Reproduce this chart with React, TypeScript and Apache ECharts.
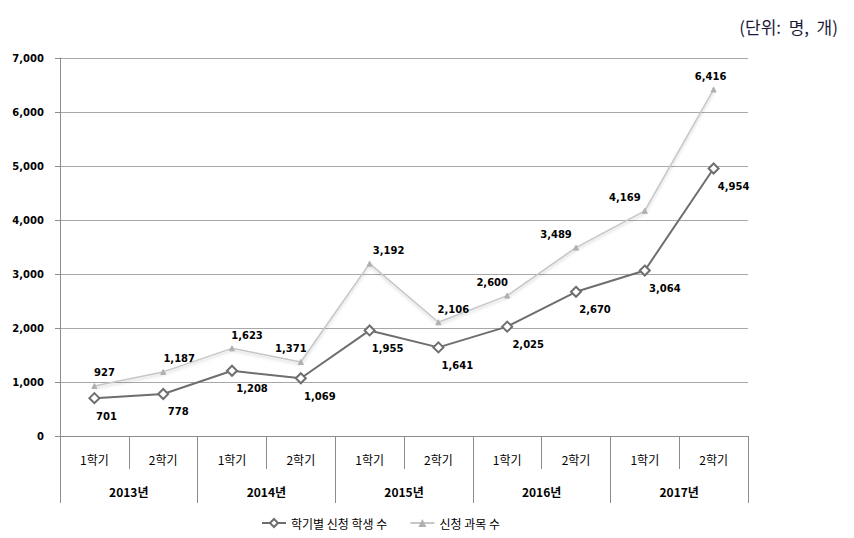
import React, { useEffect, useRef } from "react";
import * as echarts from "echarts";

const semesters = ["1학기", "2학기", "1학기", "2학기", "1학기", "2학기", "1학기", "2학기", "1학기", "2학기"];
const years = ["2013년", "2014년", "2015년", "2016년", "2017년"];
const students = [701, 778, 1208, 1069, 1955, 1641, 2025, 2670, 3064, 4954];
const courses = [927, 1187, 1623, 1371, 3192, 2106, 2600, 3489, 4169, 6416];
const yTicks = [0, 1000, 2000, 3000, 4000, 5000, 6000, 7000];

// label horizontal nudges (style only)
const studentLabelDx = [12, 15, 20, 19, 18, 19, 21, 19, 20, 20];
const courseLabelDx = [10, 16, 15, -10, 19, 15, -15, -20, -20, -3];

const numFont = "DejaVu Sans";
const krFont = "'Noto Sans CJK KR', 'Noto Sans', sans-serif";

export default function App() {
  const ref = useRef<HTMLDivElement>(null);
  useEffect(() => {
    if (!ref.current) return;
    const chart = echarts.init(ref.current, undefined, { renderer: "svg" });
    const fmt = (v: number) => v.toLocaleString("en-US");
    chart.setOption({
      animation: false,
      backgroundColor: "#ffffff",
      graphic: [
        {
          type: "text",
          right: 16,
          top: 18,
          style: { text: "(단위:  명,  개)", font: "17px " + krFont, fill: "#1a1a3a" },
        },
      ],
      legend: {
        left: 256,
        top: 512,
        itemGap: 22,
        itemWidth: 24,
        itemHeight: 10,
        textStyle: { fontFamily: krFont, fontSize: 12, color: "#000" },
        data: ["학기별 신청 학생 수", "신청 과목 수"],
      },
      grid: { left: 60, right: 106, top: 58, bottom: 102 },
      xAxis: [
        {
          type: "category",
          data: semesters,
          boundaryGap: true,
          position: "bottom",
          axisLine: { show: true, lineStyle: { color: "#8c8c8c", width: 1 } },
          axisTick: { show: true, interval: 0, length: 33, lineStyle: { color: "#8c8c8c" } },
          axisLabel: { interval: 0, margin: 17, fontFamily: krFont, fontSize: 12, color: "#000" },
        },
        {
          type: "category",
          data: years,
          boundaryGap: true,
          position: "bottom",
          offset: 33,
          axisLine: { show: false },
          axisTick: { show: true, interval: 0, length: 34, lineStyle: { color: "#8c8c8c" } },
          axisLabel: { interval: 0, margin: 16, fontFamily: krFont, fontSize: 12, fontWeight: "bold", color: "#000" },
        },
      ],
      yAxis: {
        type: "value",
        min: yTicks[0],
        max: yTicks[yTicks.length - 1],
        interval: 1000,
        axisLine: { show: true, lineStyle: { color: "#8c8c8c" } },
        axisTick: { show: true, length: 5, lineStyle: { color: "#8c8c8c" } },
        axisLabel: {
          margin: 16,
          fontFamily: numFont,
          fontSize: 10,
          fontWeight: "bold",
          color: "#000",
          formatter: (v: number) => fmt(v),
        },
        splitLine: { show: true, lineStyle: { color: "#a8a8a8", width: 1 } },
      },
      series: [
        {
          name: "학기별 신청 학생 수",
          type: "line",
          xAxisIndex: 0,
          data: students.map((v, i) => ({
            value: v,
            label: { offset: [studentLabelDx[i], 0] },
          })),
          symbol: "diamond",
          symbolSize: 10,
          lineStyle: { color: "#6e6e6e", width: 2 },
          itemStyle: { color: "#ffffff", borderColor: "#6e6e6e", borderWidth: 2 },
          label: {
            show: true,
            position: "bottom",
            distance: 7,
            fontFamily: numFont,
            fontSize: 10,
            fontWeight: "bold",
            color: "#000",
            formatter: (p: any) => fmt(p.value),
          },
          z: 3,
        },
        {
          name: "신청 과목 수",
          type: "line",
          xAxisIndex: 0,
          data: courses.map((v, i) => ({
            value: v,
            label: { offset: [courseLabelDx[i], 0] },
          })),
          symbol: "triangle",
          symbolSize: 5,
          lineStyle: {
            color: "#c6c6c6",
            width: 1.5,
            shadowColor: "rgba(0,0,0,0.18)",
            shadowBlur: 3,
            shadowOffsetY: 2,
          },
          itemStyle: { color: "#b0b0b0", borderColor: "#b0b0b0" },
          label: {
            show: true,
            position: "top",
            distance: 5,
            fontFamily: numFont,
            fontSize: 10,
            fontWeight: "bold",
            color: "#000",
            formatter: (p: any) => fmt(p.value),
          },
          z: 2,
        },
      ],
    });
    return () => chart.dispose();
  }, []);
  return <div ref={ref} style={{ width: 854, height: 538, position: "absolute", left: 0, top: 0 }} />;
}
